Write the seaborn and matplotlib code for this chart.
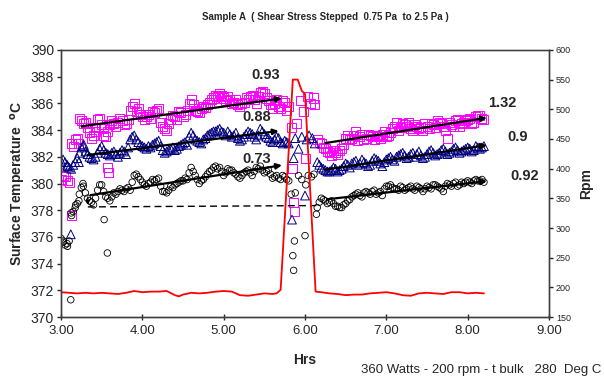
import matplotlib
matplotlib.use('Agg')
import matplotlib.pyplot as plt
import seaborn as sns

# ── DATA ────────────────────────────────────────────────────────────────────
t_main = [3.00, 3.05, 3.10, 3.15, 3.20, 3.25, 3.30, 3.35, 3.40, 3.45, 3.50, 3.55,
          3.60, 3.65, 3.70, 3.75, 3.80, 3.85, 3.90, 3.95, 4.00, 4.05, 4.10, 4.15,
          4.20, 4.25, 4.30, 4.35, 4.40, 4.45, 4.50, 4.55, 4.60, 4.65, 4.70, 4.75,
          4.80, 4.85, 4.90, 4.95, 5.00, 5.05, 5.10, 5.15, 5.20, 5.25, 5.30, 5.35,
          5.40, 5.45, 5.50, 5.55, 5.60, 5.65, 5.70, 5.75, 5.80]
t_main2 = [3.025, 3.075, 3.125, 3.175, 3.225, 3.275, 3.325, 3.375, 3.425, 3.475, 3.525, 3.575,
           3.625, 3.675, 3.725, 3.775, 3.825, 3.875, 3.925, 3.975, 4.025, 4.075, 4.125, 4.175,
           4.225, 4.275, 4.325, 4.375, 4.425, 4.475, 4.525, 4.575, 4.625, 4.675, 4.725, 4.775,
           4.825, 4.875, 4.925, 4.975, 5.025, 5.075, 5.125, 5.175, 5.225, 5.275, 5.325, 5.375,
           5.425, 5.475, 5.525, 5.575, 5.625, 5.675, 5.725, 5.775]
t_late = [6.15, 6.20, 6.25, 6.30, 6.35, 6.40, 6.45, 6.50, 6.55, 6.60, 6.65, 6.70,
          6.75, 6.80, 6.85, 6.90, 6.95, 7.00, 7.05, 7.10, 7.15, 7.20, 7.25, 7.30,
          7.35, 7.40, 7.45, 7.50, 7.55, 7.60, 7.65, 7.70, 7.75, 7.80, 7.85, 7.90,
          7.95, 8.00, 8.05, 8.10, 8.15, 8.20]
t_late2 = [6.175, 6.225, 6.275, 6.325, 6.375, 6.425, 6.475, 6.525, 6.575, 6.625, 6.675, 6.725,
           6.775, 6.825, 6.875, 6.925, 6.975, 7.025, 7.075, 7.125, 7.175, 7.225, 7.275, 7.325,
           7.375, 7.425, 7.475, 7.525, 7.575, 7.625, 7.675, 7.725, 7.775, 7.825, 7.875, 7.925,
           7.975, 8.025, 8.075, 8.125, 8.175]

pink_main = [380.3, 380.5, 380.1, 382.8, 383.4, 384.7, 384.6, 383.8, 383.6, 384.8, 384.4, 383.5,
             384.4, 384.5, 384.6, 384.7, 384.5, 385.5, 386.0, 385.6, 385.0, 385.0, 384.9, 385.3,
             385.6, 384.3, 384.0, 384.8, 385.0, 385.4, 385.0, 385.5, 386.3, 385.5, 385.3, 385.8,
             385.9, 386.3, 386.6, 386.7, 386.4, 386.5, 386.0, 386.3, 385.8, 386.1, 386.3, 386.6,
             386.0, 386.8, 386.7, 386.2, 385.6, 386.3, 385.6, 386.1, 385.8]
pink_main2 = [380.6, 380.2, 383.0, 383.3, 384.9, 384.5, 384.2, 383.4, 384.2, 384.9, 384.1, 383.9,
              384.7, 384.3, 384.9, 384.4, 384.8, 385.8, 385.4, 385.2, 384.8, 385.2, 385.4, 385.5,
              384.6, 384.1, 384.5, 385.1, 384.8, 385.3, 385.2, 386.0, 385.9, 385.4, 385.6, 385.7,
              386.1, 386.4, 386.5, 386.6, 386.2, 386.3, 386.1, 385.9, 386.0, 386.4, 386.5, 386.3,
              386.5, 386.9, 386.4, 385.9, 386.0, 385.8, 386.2, 385.5]
pink_late = [383.3, 383.0, 382.6, 382.3, 382.5, 382.2, 382.6, 383.4, 383.3, 383.6, 383.2, 383.7,
             383.4, 383.6, 383.3, 383.5, 383.7, 383.5, 383.8, 384.3, 384.0, 384.5, 384.3, 384.1,
             384.4, 384.1, 384.0, 384.3, 384.5, 384.2, 384.6, 384.3, 383.4, 384.4, 384.7, 384.3,
             384.6, 384.8, 384.5, 385.0, 385.1, 384.8]
pink_late2 = [383.1, 382.7, 382.4, 382.1, 382.3, 382.5, 382.9, 383.6, 383.4, 383.9, 383.5, 383.3,
              383.7, 383.5, 383.6, 383.4, 383.9, 383.6, 384.1, 384.6, 384.2, 384.4, 384.6, 384.0,
              384.3, 384.2, 384.5, 384.1, 384.4, 384.7, 384.5, 384.0, 384.6, 384.3, 384.8, 384.5,
              384.7, 384.9, 384.6, 385.1, 384.9]
pink_x_extra = [3.13, 3.57, 3.58, 3.22, 3.42, 3.52, 5.83, 5.85, 5.86, 5.87, 5.90, 5.95,
                5.98, 6.00, 6.03, 6.07, 6.10, 6.12]
pink_y_extra = [377.6, 381.2, 380.8, 383.0, 383.9, 383.6, 384.2, 381.1, 378.6, 377.9, 384.5, 386.2,
                385.4, 381.9, 386.5, 386.0, 386.4, 385.9]

blue_main = [381.7, 381.6, 381.2, 381.4, 381.9, 382.7, 382.4, 382.0, 381.8, 382.3, 382.8, 382.3,
             382.1, 382.4, 382.0, 382.5, 382.2, 383.3, 383.6, 383.1, 382.8, 382.6, 382.7, 383.0,
             383.2, 382.5, 382.4, 382.6, 382.5, 382.8, 383.0, 382.9, 383.8, 383.3, 383.1, 383.3,
             383.6, 383.8, 383.9, 384.1, 383.8, 383.9, 383.5, 383.8, 383.2, 383.5, 383.9, 383.7,
             383.3, 384.1, 383.7, 383.4, 383.1, 383.5, 383.1, 383.2, 383.0]
blue_main2 = [381.8, 381.4, 381.1, 381.6, 382.3, 382.8, 382.2, 381.9, 382.0, 382.6, 382.5, 382.2,
              382.3, 382.2, 382.3, 382.4, 382.7, 383.5, 383.3, 382.9, 382.7, 382.8, 382.9, 383.1,
              382.8, 382.3, 382.5, 382.7, 382.6, 382.9, 383.1, 383.5, 383.6, 383.2, 383.0, 383.4,
              383.7, 383.9, 384.0, 383.9, 383.6, 383.7, 383.6, 383.4, 383.3, 383.7, 383.8, 383.5,
              383.6, 383.9, 383.5, 383.2, 383.3, 383.4, 383.0, 383.1]
blue_late = [381.6, 381.2, 381.0, 380.9, 381.2, 380.9, 381.1, 381.5, 381.2, 381.6, 381.4, 381.8,
             381.5, 381.4, 381.9, 381.7, 381.3, 381.8, 382.0, 381.7, 382.1, 382.3, 381.9, 382.2,
             382.0, 382.4, 381.9, 382.2, 382.5, 382.1, 382.3, 382.6, 382.2, 382.4, 382.7, 382.3,
             382.5, 382.7, 382.4, 382.8, 382.6, 382.8]
blue_late2 = [381.4, 381.1, 380.9, 381.0, 381.1, 381.0, 381.3, 381.4, 381.5, 381.7, 381.5, 381.6,
              381.3, 381.7, 381.8, 381.5, 381.6, 381.9, 381.8, 382.0, 382.2, 382.1, 382.0, 382.3,
              382.2, 382.1, 382.0, 382.4, 382.3, 382.2, 382.5, 382.4, 382.3, 382.6, 382.5, 382.4,
              382.6, 382.6, 382.5, 382.7, 382.7]
blue_x_extra = [3.12, 3.08, 3.22, 3.28, 3.33, 5.84, 5.86, 5.88, 5.92, 5.96, 6.00, 6.02,
                6.05, 6.09, 6.12]
blue_y_extra = [376.2, 381.3, 381.6, 382.9, 382.2, 377.3, 381.9, 383.4, 382.6, 383.5, 379.1, 383.3,
                383.6, 383.4, 383.0]

black_main = [375.9, 375.4, 375.7, 377.9, 378.5, 379.7, 379.3, 378.7, 378.4, 379.5, 379.9, 379.0,
              378.7, 379.3, 379.4, 379.5, 379.6, 379.5, 380.6, 380.5, 380.1, 379.8, 380.1, 380.2,
              380.4, 379.4, 379.3, 379.8, 379.9, 380.1, 380.2, 380.3, 381.2, 380.6, 380.0, 380.3,
              380.7, 381.0, 381.3, 381.2, 380.6, 381.1, 381.0, 380.7, 380.4, 380.8, 381.0, 380.6,
              381.2, 381.3, 380.8, 381.0, 380.4, 380.6, 380.3, 380.5, 380.2]
black_main2 = [375.6, 375.5, 377.8, 378.2, 379.2, 379.8, 378.9, 378.6, 378.9, 379.9, 379.4, 378.9,
               379.0, 379.2, 379.6, 379.4, 379.7, 380.1, 380.7, 380.3, 379.9, 380.0, 380.3, 380.3,
               379.8, 379.4, 379.5, 379.7, 380.0, 380.2, 380.4, 380.8, 380.9, 380.3, 380.2, 380.5,
               380.9, 381.2, 381.1, 380.9, 380.8, 381.0, 380.8, 380.5, 380.6, 380.9, 380.8, 380.9,
               381.1, 381.0, 380.9, 380.7, 380.5, 380.4, 380.6, 380.3]
black_late = [378.2, 378.9, 378.7, 378.6, 378.5, 378.3, 378.2, 378.5, 378.8, 379.1, 379.3, 379.0,
              379.4, 379.2, 379.5, 379.3, 379.1, 379.8, 379.9, 379.6, 379.5, 379.7, 379.6, 379.8,
              379.5, 379.7, 379.4, 379.8, 379.6, 379.9, 379.7, 379.4, 380.0, 379.8, 380.1, 379.9,
              380.0, 380.2, 380.0, 380.3, 380.2, 380.1]
black_late2 = [378.6, 378.8, 378.5, 378.7, 378.3, 378.2, 378.4, 378.7, 379.0, 379.2, 379.1, 379.3,
               379.3, 379.4, 379.2, 379.4, 379.6, 379.8, 379.7, 379.6, 379.8, 379.5, 379.7, 379.6,
               379.8, 379.6, 379.6, 379.7, 379.9, 379.8, 379.6, 379.8, 379.9, 380.0, 379.8, 380.1,
               380.1, 380.1, 380.2, 380.2, 380.3]
black_x_extra = [3.03, 3.08, 3.12, 3.13, 3.18, 3.22, 3.27, 3.53, 3.57, 5.83, 5.85, 5.86,
                 5.87, 5.88, 5.92, 5.96, 6.00, 6.01, 6.04, 6.08, 6.11, 6.14]
black_y_extra = [375.7, 375.3, 371.3, 377.6, 378.4, 378.7, 380.0, 377.3, 374.8, 379.2, 374.6, 373.5,
                 375.7, 379.3, 380.6, 380.3, 376.1, 379.9, 380.6, 380.5, 380.7, 377.7]

rpm_t = [3.00, 3.10, 3.20, 3.30, 3.40, 3.50, 3.60, 3.70, 3.80, 3.90, 4.00, 4.10, 4.20, 4.30,
         4.40, 4.45, 4.50, 4.60, 4.70, 4.80, 4.90, 5.00, 5.10, 5.20, 5.30, 5.40, 5.50, 5.60,
         5.65, 5.70, 5.85, 5.91, 5.96, 6.00, 6.13, 6.20, 6.30, 6.40, 6.50, 6.60, 6.70, 6.80,
         6.90, 7.00, 7.10, 7.20, 7.30, 7.40, 7.50, 7.60, 7.70, 7.80, 7.90, 8.00, 8.10, 8.20]
rpm = [192, 191, 190, 191, 190, 191, 190, 189, 191, 194, 192, 193, 193, 194,
       187, 185, 188, 191, 190, 191, 193, 194, 193, 187, 186, 188, 190, 189,
       190, 196, 550, 550, 531, 526, 193, 192, 190, 189, 187, 188, 188, 190,
       191, 192, 190, 187, 186, 190, 191, 190, 189, 192, 192, 190, 191, 190]

# trend arrows: (x0, y0, x1, y1), label, label position
trends = [((3.22, 384.25, 5.75, 386.4), "0.93", (5.52, 388.1)),
          ((3.29, 382.1, 5.71, 383.96), "0.88", (5.41, 385.0)),
          ((3.33, 379.1, 5.75, 381.4), "0.73", (5.41, 381.8)),
          ((6.22, 383.0, 8.27, 384.95), "1.32", (8.42, 386.05)),
          ((6.21, 381.0, 8.27, 382.9), "0.9", (8.61, 383.45)),
          ((6.24, 378.8, 8.27, 380.2), "0.92", (8.70, 380.6))]
dash_x = [3.33, 6.14]
dash_y = [378.25, 378.35]

# ── PLOT ────────────────────────────────────────────────────────────────────
sns.set_style("white")
plt.rcParams['font.family'] = ['Liberation Sans', 'DejaVu Sans']

fig = plt.figure(figsize=(6.04, 3.78), dpi=100)
ax = fig.add_axes([0.101, 0.161, 0.808, 0.707])
ax2 = ax.twinx()

t_all = t_main + t_main2 + t_late + t_late2
sns.scatterplot(x=t_all + pink_x_extra,
                y=pink_main + pink_main2 + pink_late + pink_late2 + pink_y_extra,
                ax=ax, marker='s', s=42, facecolor='none', edgecolor='#FF00FF', linewidth=0.7)
sns.scatterplot(x=t_all + blue_x_extra,
                y=blue_main + blue_main2 + blue_late + blue_late2 + blue_y_extra,
                ax=ax, marker='^', s=40, facecolor='none', edgecolor='#000080', linewidth=0.7)
sns.scatterplot(x=t_all + black_x_extra,
                y=black_main + black_main2 + black_late + black_late2 + black_y_extra,
                ax=ax, marker='o', s=22, facecolor='none', edgecolor='black', linewidth=0.6)

for (x0, y0, x1, y1), lab, (lx, ly) in trends:
    ax.annotate('', xy=(x1, y1), xytext=(x0, y0),
                arrowprops=dict(arrowstyle='-|>', color='black', lw=1.6, mutation_scale=8))
    ax.text(lx, ly, lab, ha='center', va='center', fontsize=10.5, fontweight='bold')

ax.plot(dash_x, dash_y, color='black', lw=1, ls=(0, (5, 3)))
ax.annotate('', xy=(3.33, 378.2), xytext=(3.33, 379.2),
            arrowprops=dict(arrowstyle='-|>', color='black', lw=1, mutation_scale=5))

sns.lineplot(x=rpm_t, y=rpm, ax=ax2, color='red', lw=1.3)

ax.set_xlim(3, 9)
ax.set_ylim(370, 390)
ax2.set_ylim(150, 600)
ax.set_xticks([3, 4, 5, 6, 7, 8, 9])
ax.set_xticklabels(['3.00', '4.00', '5.00', '6.00', '7.00', '8.00', '9.00'], fontsize=9.5)
ax.set_yticks(range(370, 391, 2))
ax.tick_params(axis='y', labelsize=10, direction='out', length=3, width=1, pad=2, left=True)
ax.tick_params(axis='x', direction='inout', length=5, width=1, pad=3, bottom=True)
ax2.set_yticks(range(150, 601, 50))
ax2.tick_params(axis='y', labelsize=6.5, direction='out', length=3, width=1, pad=2, right=True)

for a in (ax, ax2):
    for sp in a.spines.values():
        sp.set_color('#404040')
        sp.set_linewidth(1)
ax.spines['top'].set_color('#808080')

ax.set_xlabel('Hrs', fontsize=10, fontweight='bold', labelpad=12)
ax.set_ylabel('Surface Temperature  $^{\\mathbf{o}}$C', fontsize=10, fontweight='bold', labelpad=2)
ax2.set_ylabel('Rpm', fontsize=10, fontweight='bold', labelpad=6)

fig.text(0.538, 0.955, 'Sample A  ( Shear Stress Stepped  0.75 Pa  to 2.5 Pa )',
         ha='center', va='center', fontsize=7, fontweight='bold')
fig.text(0.995, 0.004, '360 Watts - 200 rpm - t bulk   280  Deg C',
         ha='right', va='bottom', fontsize=9.5)

fig.savefig('out.png', dpi=100)
